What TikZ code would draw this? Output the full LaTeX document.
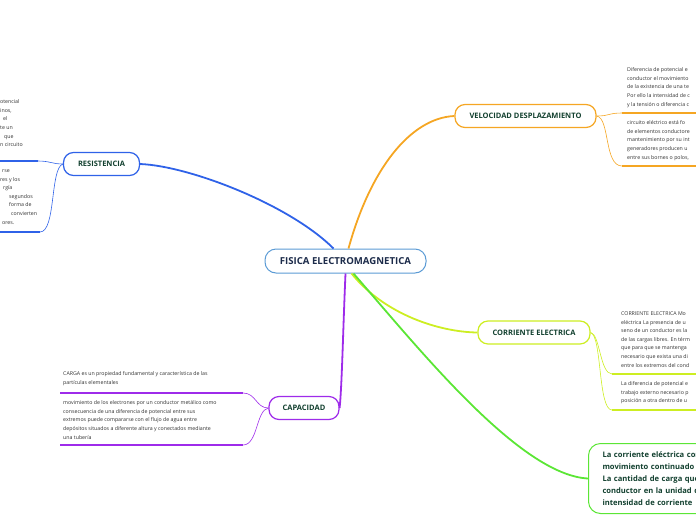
\documentclass[tikz,border=0pt]{standalone}
\usepackage{fontspec}
\setmainfont{Open Sans}
\usepackage{xcolor}
\usetikzlibrary{positioning}
\definecolor{hubline}{HTML}{5B9BD5}
\definecolor{hubtext}{HTML}{1C2B4A}
\definecolor{labeltext}{HTML}{12402F}
\definecolor{notetext}{HTML}{333333}
\definecolor{resblue}{HTML}{2F62E8}
\definecolor{veloorange}{HTML}{F5A623}
\definecolor{corrlime}{HTML}{CDEE22}
\definecolor{capviolet}{HTML}{9E2BEA}
\definecolor{boxgreen}{HTML}{5BE635}
\tikzset{
  hub/.style={draw=hubline, line width=1pt, rounded corners=11pt, fill=white,
    minimum width=161pt, minimum height=24pt, text=hubtext,
    font=\fontsize{9.6}{10}\selectfont\bfseries},
  topic/.style={draw=#1, line width=1.2pt, rounded corners=10pt, fill=white,
    minimum height=23pt, text=labeltext, font=\fontsize{7.5}{8}\selectfont\bfseries},
  note/.style={anchor=north west, align=left, inner sep=0pt, text=notetext,
    font=\fontsize{5.25}{8.6}\selectfont},
  limb/.style={line width=1.8pt},
  twig/.style={line width=0.6pt},
  bar/.style={line width=1.6pt},
}

\begin{document}
\begin{tikzpicture}[x=1pt, y=-1pt]
  \useasboundingbox (0,0) rectangle (696,520);
  \clip (0,0) rectangle (696,520);

  % main topic and branches
  \node[hub] (fisica) at (345.5,261) {FISICA ELECTROMAGNETICA};
  \node[topic=resblue, minimum width=76pt] (resistencia) at (101.5,164) {RESISTENCIA};
  \node[topic=veloorange, minimum width=141pt] (velocidad) at (525.5,116) {VELOCIDAD DESPLAZAMIENTO};
  \node[topic=corrlime, minimum width=112pt] (corriente) at (534,332.5) {CORRIENTE ELECTRICA};
  \node[topic=capviolet, minimum width=70pt] (capacidad) at (304,408) {CAPACIDAD};
  \node[draw=boxgreen, line width=1pt, rounded corners=12pt, fill=white, anchor=north west,
    minimum height=70pt, text width=130pt, inner xsep=14pt, align=left, text=labeltext,
    font=\fontsize{7.6}{12}\selectfont\bfseries] (flujo) at (588,443)
    {La corriente eléctrica con\\movimiento continuado\\La cantidad de carga que\\conductor en la unidad d\\intensidad de corriente};

  \draw[limb, resblue] ([xshift=-12pt]fisica.north) .. controls (290,205) and (190,166) .. (resistencia.east);
  \draw[limb, veloorange] ([xshift=3pt]fisica.north) .. controls (370,170) and (410,118) .. (velocidad.west);
  \draw[limb, corrlime] ([xshift=6pt]fisica.south) .. controls (385,315) and (440,332) .. (corriente.west);
  \draw[limb, boxgreen] ([xshift=8pt]fisica.south) .. controls (420,350) and (520,475) .. (flujo.west);
  \draw[limb, capviolet] (fisica.south) .. controls (343,330) and (342,385) .. (capacidad.east);

  % resistencia notes
  \coordinate (r1) at (38,161);
  \coordinate (r1a) at (0,161);
  \coordinate (r2) at (40,232);
  \coordinate (r2a) at (0,232);
  \node[note] (rnote1) at (0,99.5) {otencial\\inos,\\\hspace{3pt}el\\te un\\\hspace{4pt}que\\n circuito};
  \node[note] (rnote2) at (0,169.5) {\hspace{2pt}rse\\res y los\\\hspace{3pt}rgía\\\hspace{9pt}segundos\\\hspace{9pt}forma de\\\hspace{11pt}convierten\\\hspace{2pt}ores.};
  \draw[bar, resblue] (r1a) -- (r1);
  \draw[bar, resblue] (r2a) -- (r2);
  \draw[twig, resblue] (resistencia.west) .. controls (52,164) and (50,161) .. (r1);
  \draw[twig, resblue] (resistencia.west) .. controls (50,168) and (56,232) .. (r2);

  % velocidad notes
  \coordinate (v1) at (622,113);
  \coordinate (v1a) at (696,113);
  \coordinate (v2) at (622,166);
  \coordinate (v2a) at (696,166);
  \node[note] (vnote1) at (627,67.5) {Diferencia de potencial e\\conductor el movimiento\\de la existencia de una te\\Por ello la intensidad de c\\y la tensión o diferencia c};
  \node[note] (vnote2) at (627,120.5) {circuito eléctrico está fo\\de elementos conductore\\mantenimiento por su int\\generadores producen u\\entre sus bornes o polos,};
  \draw[bar, veloorange] (v1) -- (v1a);
  \draw[bar, veloorange] (v2) -- (v2a);
  \draw[twig, veloorange] (velocidad.east) .. controls (610,116) and (608,113) .. (v1);
  \draw[twig, veloorange] (velocidad.east) .. controls (610,118) and (604,166) .. (v2);

  % corriente notes
  \coordinate (c1) at (612,374);
  \coordinate (c1a) at (696,374);
  \coordinate (c2) at (612,410);
  \coordinate (c2a) at (696,410);
  \node[note] (cnote1) at (621,311.5) {CORRIENTE ELECTRICA Mo\\eléctrica La presencia de u\\seno de un conductor es la\\de las cargas libres. En térm\\que para que se mantenga\\necesario que exista una di\\entre los extremos del cond};
  \node[note] (cnote2) at (621,381.5) {La diferencia de potencial e\\trabajo externo necesario p\\posición a otra dentro de u};
  \draw[bar, corrlime] (c1) -- (c1a);
  \draw[bar, corrlime] (c2) -- (c2a);
  \draw[twig, corrlime] (corriente.east) .. controls (600,334) and (600,374) .. (c1);
  \draw[twig, corrlime] (corriente.east) .. controls (602,336) and (598,410) .. (c2);

  % capacidad notes
  \coordinate (k1) at (243,393);
  \coordinate (k1a) at (60,393);
  \coordinate (k2) at (243,445);
  \coordinate (k2a) at (60,445);
  \node[note] (knote1) at (63,371.5) {CARGA es un propiedad fundamental y característica de las\\partículas elementales};
  \node[note] (knote2) at (63,400.5) {movimiento de los electrones por un conductor metálico como\\consecuencia de una diferencia de potencial entre sus\\extremos puede compararse con el flujo de agua entre\\depósitos situados a diferente altura y conectados mediante\\una tubería};
  \draw[bar, capviolet] (k1a) -- (k1);
  \draw[bar, capviolet] (k2a) -- (k2);
  \draw[twig, capviolet] (capacidad.west) .. controls (256,408) and (256,393) .. (k1);
  \draw[twig, capviolet] (capacidad.west) .. controls (256,410) and (258,445) .. (k2);
\end{tikzpicture}
\end{document}
